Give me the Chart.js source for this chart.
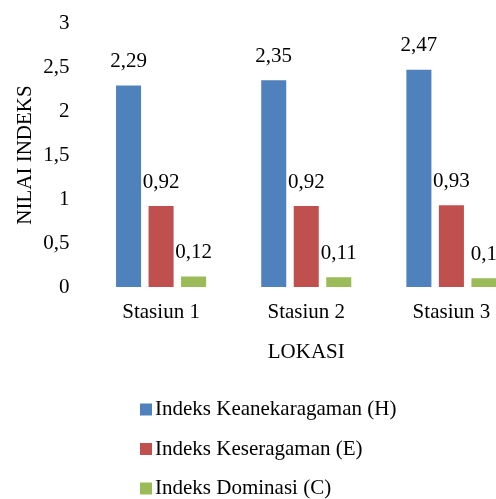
<!DOCTYPE html>
<html>
<head>
<meta charset="utf-8">
<script src="https://cdn.jsdelivr.net/npm/chart.js@4/dist/chart.umd.min.js"></script>
<style>
  html, body { margin: 0; padding: 0; background: #fff; overflow: hidden; }
  #wrap { position: absolute; left: 0; top: 0; width: 524px; height: 499px; }
</style>
</head>
<body>
<div id="wrap"><canvas id="chart" width="524" height="499"></canvas></div>
<script>
// Stations along the x axis
const stations = ['Stasiun 1', 'Stasiun 2', 'Stasiun 3'];

// Index values per station
const keanekaragaman = [2.29, 2.35, 2.47]; // H
const keseragaman = [0.92, 0.92, 0.93];    // E
const dominasi = [0.12, 0.11, 0.1];        // C

// Series names and fills
const seriesNames = ['Indeks Keanekaragaman (H)', 'Indeks Keseragaman (E)', 'Indeks Dominasi (C)'];
const seriesColors = ['#4F81BD', '#C0504D', '#9BBB59'];

// Y axis range
const yMin = 0, yMax = 3, yStep = 0.5;

const FONT = 'Liberation Serif, "Times New Roman", serif';
const fmt = v => String(v).replace('.', ',');

Chart.defaults.font.family = FONT;
Chart.defaults.font.size = 21;
Chart.defaults.color = '#000';

// Value labels above each bar
const valueLabels = {
  id: 'valueLabels',
  afterDatasetsDraw(chart) {
    const ctx = chart.ctx;
    ctx.save();
    ctx.font = '21px ' + FONT;
    ctx.fillStyle = '#000';
    ctx.textAlign = 'center';
    ctx.textBaseline = 'middle';
    chart.data.datasets.forEach((ds, i) => {
      chart.getDatasetMeta(i).data.forEach((bar, j) => {
        ctx.fillText(fmt(ds.data[j]), bar.x, bar.y - 24);
      });
    });
    ctx.restore();
  }
};

// Stacked legend under the plot
const stackedLegend = {
  id: 'stackedLegend',
  afterDraw(chart) {
    const ctx = chart.ctx;
    ctx.save();
    ctx.font = '21px ' + FONT;
    ctx.textAlign = 'left';
    ctx.textBaseline = 'middle';
    const x0 = 140, y0 = 409.5, rowGap = 39.5, box = 12;
    chart.data.datasets.forEach((ds, i) => {
      const y = y0 + i * rowGap;
      ctx.fillStyle = ds.backgroundColor;
      ctx.fillRect(x0, y - box / 2, box, box);
      ctx.fillStyle = '#000';
      ctx.fillText(ds.label, x0 + 15, y);
    });
    ctx.restore();
  }
};

new Chart(document.getElementById('chart'), {
  type: 'bar',
  data: {
    labels: stations,
    datasets: [
      { label: seriesNames[0], data: keanekaragaman, backgroundColor: seriesColors[0] },
      { label: seriesNames[1], data: keseragaman, backgroundColor: seriesColors[1] },
      { label: seriesNames[2], data: dominasi, backgroundColor: seriesColors[2] }
    ]
  },
  options: {
    responsive: false,
    animation: false,
    devicePixelRatio: 1,
    categoryPercentage: 0.672,
    barPercentage: 0.77,
    layout: { padding: { top: 23, right: 0, bottom: 132, left: 0 } },
    plugins: {
      legend: { display: false },
      tooltip: { enabled: false }
    },
    scales: {
      x: {
        grid: { display: false, drawTicks: false },
        border: { display: false },
        ticks: { padding: 13, maxRotation: 0, autoSkip: false },
        title: { display: true, text: 'LOKASI', padding: { top: 0, bottom: 2 } },
        afterFit(scale) { scale.height = 80; }
      },
      y: {
        min: yMin,
        max: yMax,
        grid: { display: false, drawTicks: false },
        border: { display: false },
        ticks: { stepSize: yStep, padding: 19, callback: v => fmt(v) },
        title: { display: true, text: 'NILAI INDEKS', padding: { top: 13, bottom: 0 } },
        afterFit(scale) {
          scale.width = 88.5;
          scale.paddingTop = 0;
          scale.paddingBottom = 0;
        }
      }
    }
  },
  plugins: [valueLabels, stackedLegend]
});
</script>
</body>
</html>
